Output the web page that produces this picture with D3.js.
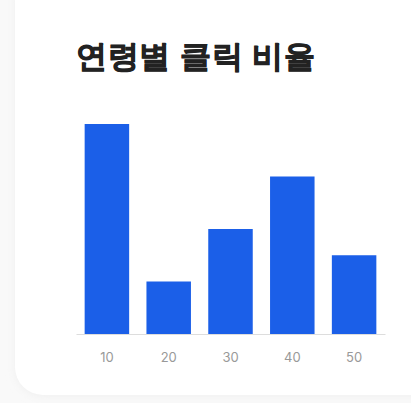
<!DOCTYPE html>
<html>
<head>
<meta charset="utf-8">
<script src="https://cdn.jsdelivr.net/npm/d3@7"></script>
<style>
  html, body { margin: 0; padding: 0; background: #f9f9f9; }
  svg { display: block; }
</style>
</head>
<body>
<svg id="chart" width="411" height="403"></svg>
<script>
var title = '연령별 클릭 비율';
var ages = ['10', '20', '30', '40', '50'];
var clicks = [40, 10, 20, 30, 15];

var svg = d3.select('#chart');

// soft card shadow
var defs = svg.append('defs');
var blur = defs.append('filter').attr('id', 'soft')
    .attr('x', '-10%').attr('y', '-10%').attr('width', '120%').attr('height', '120%');
blur.append('feGaussianBlur').attr('stdDeviation', 4);

svg.append('rect')
    .attr('x', 15).attr('y', -30)
    .attr('width', 430).attr('height', 426)
    .attr('rx', 28).attr('ry', 28)
    .attr('fill', '#efefef')
    .attr('filter', 'url(#soft)');

svg.append('rect')
    .attr('x', 15).attr('y', -30)
    .attr('width', 430).attr('height', 425)
    .attr('rx', 28).attr('ry', 28)
    .attr('fill', '#ffffff');

svg.append('text')
    .attr('x', 76).attr('y', 67)
    .attr('font-family', 'sans-serif')
    .attr('font-weight', 700)
    .attr('font-size', 31)
    .attr('letter-spacing', 0.6)
    .attr('fill', '#222222')
    .attr('stroke', '#222222')
    .attr('stroke-width', 0.8)
    .text(title);

var x = d3.scaleBand()
    .domain(ages)
    .range([76, 385])
    .paddingInner(0.28)
    .paddingOuter(0.14);

var y = d3.scaleLinear()
    .domain([0, 40])
    .range([334, 124]);

svg.selectAll('.bar')
    .data(clicks)
    .enter().append('rect')
    .attr('class', 'bar')
    .attr('x', function(d, i) { return x(ages[i]); })
    .attr('y', function(d) { return y(d); })
    .attr('width', x.bandwidth())
    .attr('height', function(d) { return y(0) - y(d); })
    .attr('fill', '#1b5fe8');

var axis = svg.append('g')
    .attr('transform', 'translate(0,' + y(0) + ')')
    .call(d3.axisBottom(x).tickSize(0).tickPadding(19));
axis.select('.domain').attr('stroke', '#dddddd').attr('stroke-width', 1);
axis.selectAll('text')
    .attr('font-family', 'Inter, sans-serif')
    .attr('font-size', 13)
    .attr('fill', '#999999');
</script>
</body>
</html>
